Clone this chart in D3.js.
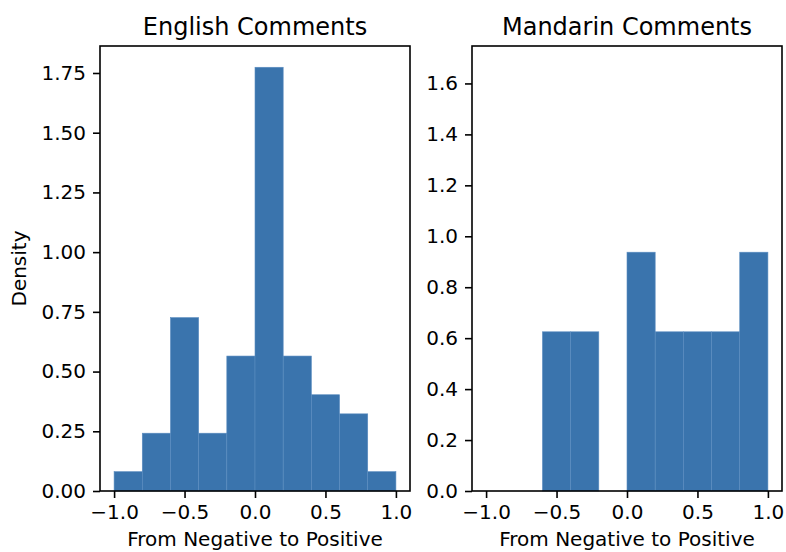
<!DOCTYPE html>
<html>
<head>
<meta charset="utf-8">
<script src="https://cdn.jsdelivr.net/npm/d3@7"></script>
<style>
  html, body { margin: 0; padding: 0; background: #fff; }
  svg { display: block; font-family: "DejaVu Sans", sans-serif; }
</style>
</head>
<body>
<svg id="chart" width="786" height="552"></svg>
<script>
// Histogram bin edges shared by both panels
const binEdges = [-1.0, -0.8, -0.6, -0.4, -0.2, 0.0, 0.2, 0.4, 0.6, 0.8, 1.0];

// Density per bin
const englishDensity  = [0.081, 0.242, 0.726, 0.242, 0.565, 1.774, 0.565, 0.403, 0.323, 0.081];
const mandarinDensity = [0, 0, 0.625, 0.625, 0, 0.9375, 0.625, 0.625, 0.625, 0.9375];

// Axis ticks
const xTicks = [-1.0, -0.5, 0.0, 0.5, 1.0];
const englishYTicks  = [0, 0.25, 0.5, 0.75, 1.0, 1.25, 1.5, 1.75];
const mandarinYTicks = [0, 0.2, 0.4, 0.6, 0.8, 1.0, 1.2, 1.4, 1.6];

const panels = [
  { title: "English Comments",  values: englishDensity,  yTicks: englishYTicks,  yMax: 1.863, yFmt: ".2f",
    x0: 100, x1: 410, ylabel: "Density" },
  { title: "Mandarin Comments", values: mandarinDensity, yTicks: mandarinYTicks, yMax: 1.747, yFmt: ".1f",
    x0: 472, x1: 782, ylabel: null }
];

const plotTop = 46, plotBottom = 491;
const barColor = "#3a74ad";
const svg = d3.select("#chart");

panels.forEach(p => {
  const x = d3.scaleLinear().domain([-1.1, 1.1]).range([p.x0, p.x1]);
  const y = d3.scaleLinear().domain([0, p.yMax]).range([plotBottom, plotTop]);
  const g = svg.append("g");

  // bars
  const bins = p.values.map((v, i) => ({ lo: binEdges[i], hi: binEdges[i + 1], v }))
                       .filter(d => d.v > 0);
  g.selectAll("rect.bar").data(bins).join("rect")
    .attr("class", "bar")
    .attr("x", d => x(d.lo))
    .attr("width", d => x(d.hi) - x(d.lo))
    .attr("y", d => y(d.v))
    .attr("height", d => y(0) - y(d.v))
    .attr("fill", barColor)
    .attr("stroke", "#5b8dc0")
    .attr("stroke-width", 0.6);

  // x axis
  const xAxis = d3.axisBottom(x).tickValues(xTicks).tickFormat(d3.format(".1f"))
    .tickSize(7).tickPadding(7);
  const gx = g.append("g").attr("transform", `translate(0,${plotBottom})`).call(xAxis);

  // y axis
  const yAxis = d3.axisLeft(y).tickValues(p.yTicks).tickFormat(d3.format(p.yFmt))
    .tickSize(7).tickPadding(7);
  const gy = g.append("g").attr("transform", `translate(${p.x0},0)`).call(yAxis);

  [gx, gy].forEach(a => {
    a.select(".domain").remove();
    a.selectAll(".tick line").attr("stroke", "#000").attr("stroke-width", 1.6);
    a.selectAll(".tick text").attr("fill", "#000").style("font-size", "20px")
      .style("font-family", "'DejaVu Sans', sans-serif");
  });
  gx.selectAll(".tick text").attr("dy", "0.71em");

  // frame
  g.append("rect")
    .attr("x", p.x0).attr("y", plotTop)
    .attr("width", p.x1 - p.x0).attr("height", plotBottom - plotTop)
    .attr("fill", "none").attr("stroke", "#000").attr("stroke-width", 1.6);

  // title
  g.append("text")
    .attr("x", (p.x0 + p.x1) / 2).attr("y", 35)
    .attr("text-anchor", "middle")
    .style("font-size", "24px")
    .text(p.title);

  // x label
  g.append("text")
    .attr("x", (p.x0 + p.x1) / 2).attr("y", 546)
    .attr("text-anchor", "middle")
    .style("font-size", "20px")
    .text("From Negative to Positive");

  // y label
  if (p.ylabel) {
    g.append("text")
      .attr("transform", `translate(26,${(plotTop + plotBottom) / 2}) rotate(-90)`)
      .attr("text-anchor", "middle")
      .style("font-size", "20px")
      .text(p.ylabel);
  }
});
</script>
</body>
</html>
